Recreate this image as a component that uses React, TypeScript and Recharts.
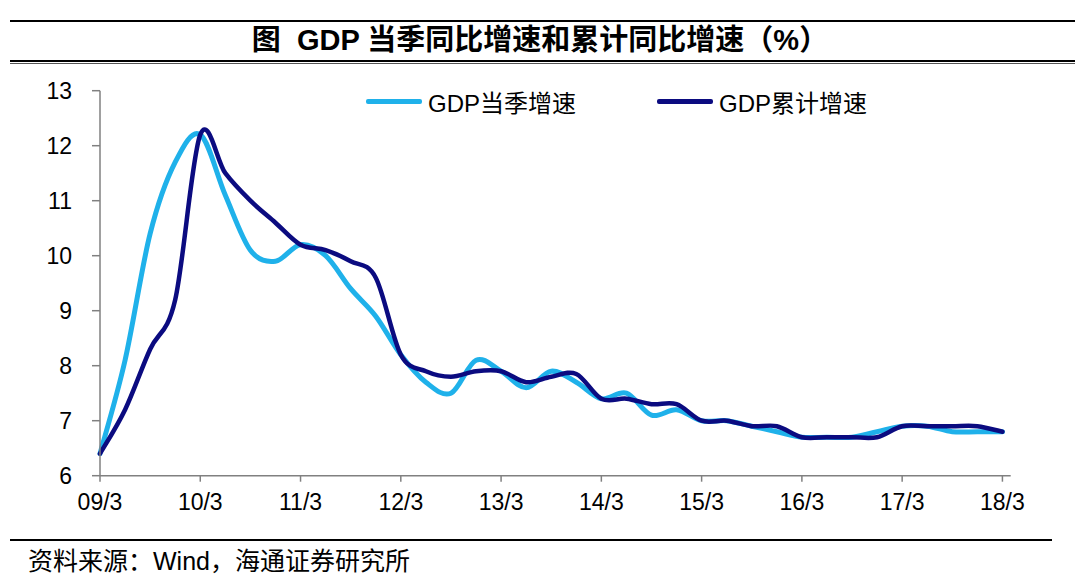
import React from "react";
import { LineChart, Line, XAxis, YAxis } from "recharts";

// quarter labels, 09Q1 .. 18Q1
const quarterLabels = [
  "09/3", "09/6", "09/9", "09/12",
  "10/3", "10/6", "10/9", "10/12",
  "11/3", "11/6", "11/9", "11/12",
  "12/3", "12/6", "12/9", "12/12",
  "13/3", "13/6", "13/9", "13/12",
  "14/3", "14/6", "14/9", "14/12",
  "15/3", "15/6", "15/9", "15/12",
  "16/3", "16/6", "16/9", "16/12",
  "17/3", "17/6", "17/9", "17/12",
  "18/3",
];
const tickLabels = ["09/3", "10/3", "11/3", "12/3", "13/3", "14/3", "15/3", "16/3", "17/3", "18/3"];
const yTicks = [6, 7, 8, 9, 10, 11, 12, 13];

// GDP当季增速 (%)
const gdpQuarterly = [
  6.4, 8.1, 10.4, 11.7,
  12.2, 11.1, 10.1, 9.9,
  10.2, 10.0, 9.4, 8.9,
  8.2, 7.7, 7.5, 8.1,
  7.9, 7.6, 7.9, 7.7,
  7.4, 7.5, 7.1, 7.2,
  7.0, 7.0, 6.9, 6.8,
  6.7, 6.7, 6.7, 6.8,
  6.9, 6.9, 6.8, 6.8,
  6.8,
];
// GDP累计增速 (%)
const gdpCumulative = [
  6.4, 7.2, 8.3, 9.2,
  12.2, 11.5, 11.0, 10.6,
  10.2, 10.1, 9.9, 9.6,
  8.2, 7.9, 7.8, 7.9,
  7.9, 7.7, 7.8, 7.85,
  7.4, 7.4, 7.3, 7.3,
  7.0, 7.0, 6.9, 6.9,
  6.7, 6.7, 6.7, 6.7,
  6.9, 6.9, 6.9, 6.9,
  6.8,
];

const LIGHT = "#1FB1EA";
const DARK = "#0B0B80";
const AXIS = "#808080";
const FONT = '"Liberation Sans", Arial, "Noto Sans CJK SC", sans-serif';

const data = quarterLabels.map((label, i) => ({
  i,
  label,
  q: gdpQuarterly[i],
  c: gdpCumulative[i],
}));

// Excel-style smoothed line (Catmull-Rom through every point)
function smoothCurve(context: any) {
  let pts: number[][] = [];
  return {
    areaStart() {},
    areaEnd() {},
    lineStart() {
      pts = [];
    },
    point(x: number, y: number) {
      pts.push([+x, +y]);
    },
    lineEnd() {
      const n = pts.length;
      if (!n) return;
      context.moveTo(pts[0][0], pts[0][1]);
      for (let k = 0; k < n - 1; k++) {
        const p0 = pts[Math.max(k - 1, 0)];
        const p1 = pts[k];
        const p2 = pts[k + 1];
        const p3 = pts[Math.min(k + 2, n - 1)];
        context.bezierCurveTo(
          p1[0] + (p2[0] - p0[0]) / 6,
          p1[1] + (p2[1] - p0[1]) / 6,
          p2[0] - (p3[0] - p1[0]) / 6,
          p2[1] - (p3[1] - p1[1]) / 6,
          p2[0],
          p2[1]
        );
      }
    },
  };
}

const LegendItem = ({ color, text, left }: { color: string; text: string; left: number }) => (
  <div style={{ position: "absolute", left, top: 87, height: 28, display: "flex", alignItems: "center" }}>
    <div style={{ width: 56, height: 5, background: color, borderRadius: 2 }} />
    <span style={{ marginLeft: 6, fontSize: 24, color: "#000", whiteSpace: "nowrap" }}>{text}</span>
  </div>
);

export default function App() {
  return (
    <div
      style={{
        position: "absolute",
        left: 0,
        top: 0,
        width: 1080,
        height: 578,
        background: "#fff",
        fontFamily: FONT,
        overflow: "hidden",
      }}
    >
      {/* title block */}
      <div style={{ position: "absolute", left: 10, top: 20, width: 1065, height: 2, background: "#000" }} />
      <div
        style={{
          position: "absolute",
          left: 0,
          top: 21,
          width: 1080,
          textAlign: "center",
          fontSize: 29,
          fontWeight: 700,
          lineHeight: "38px",
          color: "#000",
          whiteSpace: "pre",
        }}
      >
        {"图  GDP 当季同比增速和累计同比增速（%）"}
      </div>
      <div style={{ position: "absolute", left: 10, top: 60, width: 1065, height: 2, background: "#000" }} />
      <div style={{ position: "absolute", left: 10, top: 63, width: 1065, height: 1, background: "#555" }} />

      <div style={{ position: "absolute", left: 0, top: 0 }}>
        <LineChart
          width={1080}
          height={578}
          data={data}
          margin={{ top: 90.7, right: 69.3, bottom: 62.3, left: 20 }}
        >
          <XAxis
            dataKey="i"
            type="number"
            domain={[0, 36.33]}
            ticks={tickLabels.map((t) => quarterLabels.indexOf(t))}
            tickFormatter={(v: number) => quarterLabels[v]}
            axisLine={{ stroke: AXIS, strokeWidth: 1.5 }}
            tickLine={{ stroke: AXIS, strokeWidth: 1.5 }}
            tickSize={6}
            tickMargin={12}
            height={40}
            tick={{ fill: "#000", fontSize: 23, fontFamily: FONT }}
            interval={0}
          />
          <YAxis
            domain={[6, 13]}
            ticks={yTicks}
            axisLine={{ stroke: AXIS, strokeWidth: 1.5 }}
            tickLine={{ stroke: AXIS, strokeWidth: 1.5 }}
            tickSize={8}
            tickMargin={20}
            width={80}
            tick={{ fill: "#000", fontSize: 23, fontFamily: FONT }}
            interval={0}
          />
          <Line
            type={smoothCurve as any}
            dataKey="q"
            stroke={LIGHT}
            strokeWidth={5}
            strokeLinecap="round"
            dot={false}
            activeDot={false}
            isAnimationActive={false}
          />
          <Line
            type={smoothCurve as any}
            dataKey="c"
            stroke={DARK}
            strokeWidth={4.5}
            strokeLinecap="round"
            dot={false}
            activeDot={false}
            isAnimationActive={false}
          />
        </LineChart>
      </div>

      <LegendItem color={LIGHT} text="GDP当季增速" left={366} />
      <LegendItem color={DARK} text="GDP累计增速" left={657} />

      {/* source */}
      <div style={{ position: "absolute", left: 10, top: 539, width: 1042, height: 2, background: "#000" }} />
      <div
        style={{
          position: "absolute",
          left: 28,
          top: 545,
          fontSize: 25,
          lineHeight: "32px",
          color: "#000",
          whiteSpace: "nowrap",
        }}
      >
        资料来源：Wind，海通证券研究所
      </div>
    </div>
  );
}
